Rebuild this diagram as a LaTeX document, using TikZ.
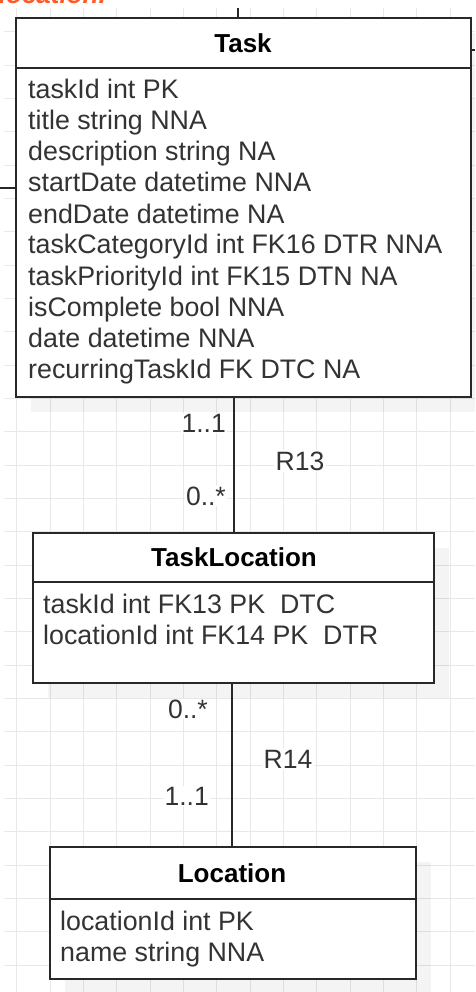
\documentclass[tikz,border=0pt]{standalone}
\usepackage{fontspec}
\setmainfont{Liberation Sans}
\usepackage{tikz}
\usetikzlibrary{positioning, calc}
\definecolor{boxline}{RGB}{40,40,40}
\definecolor{txtgray}{RGB}{51,51,51}
\definecolor{gridgray}{RGB}{232,232,232}
\definecolor{notered}{RGB}{255,90,40}
\tikzset{
  entity/.style={rectangle, draw=boxline, fill=white, line width=1.6pt, inner sep=0pt, anchor=north west},
  shade/.style={fill=black, opacity=0.045},
  divider/.style={draw=boxline, line width=1.6pt},
  title/.style={font=\fontsize{26}{31}\selectfont\bfseries, text=black, inner sep=0pt},
  attr/.style={font=\fontsize{26.8}{31}\selectfont, text=txtgray, inner sep=0pt, anchor=base west},
  mult/.style={font=\fontsize{26.5}{31}\selectfont, text=txtgray, fill=white, inner sep=1pt, anchor=base east},
  relname/.style={font=\fontsize{26.5}{31}\selectfont, text=txtgray, fill=white, inner sep=2pt, anchor=base},
  link/.style={draw=boxline, line width=1.5pt},
  gridline/.style={draw=gridgray, line width=0.9pt}
}

\begin{document}
\begin{tikzpicture}[x=1pt, y=-1pt]
  \useasboundingbox (0,0) rectangle (475,992);
  \clip (0,0) rectangle (475,992);

  % Grid
  \foreach \gx in {0,...,13}
    \draw[gridline] ({16.7+33.33*\gx},8) -- ({16.7+33.33*\gx},992);
  \foreach \gy in {0,...,28}
    \draw[gridline] (4,{31.7+33.33*\gy}) -- (475,{31.7+33.33*\gy});

  % Note text cut at the top
  \node[font=\fontsize{26}{31}\selectfont\bfseries\itshape, text=notered, inner sep=0pt, anchor=base east] (note) at (106,3.5) {location.};

  % Shadows
  \fill[shade] (31,33) rectangle (486,412);
  \fill[shade] (48,548) rectangle (449,698);
  \fill[shade] (65,862) rectangle (431,994);

  % Task
  \node[entity, minimum width=455pt, minimum height=379pt] (task) at (15,17) {};
  \draw[divider] ([yshift=-51pt]task.north west) -- ([yshift=-51pt]task.north east);
  \node[title] (taskTitle) at (243,43) {Task};
  \foreach \txt [count=\i from 0] in {taskId int PK, title string NNA, description string NA,
      startDate datetime NNA, endDate datetime NA, taskCategoryId int FK16 DTR NNA,
      taskPriorityId int FK15 DTN NA, isComplete bool NNA, date datetime NNA,
      recurringTaskId FK DTC NA}
    \node[attr] (taskAttr\i) at (28,{99+31*\i}) {\txt};

  % TaskLocation
  \node[entity, minimum width=401pt, minimum height=150pt] (taskLocation) at (32,532) {};
  \draw[divider] ([yshift=-50pt]taskLocation.north west) -- ([yshift=-50pt]taskLocation.north east);
  \node[title] (taskLocationTitle) at (234,557) {TaskLocation};
  \node[attr] (tlAttr0) at (43,613) {taskId int FK13 PK\ \ DTC};
  \node[attr] (tlAttr1) at (43,644) {locationId int FK14 PK\ \ DTR};

  % Location
  \node[entity, minimum width=366pt, minimum height=132pt] (location) at (49,846) {};
  \draw[divider] ([yshift=-53pt]location.north west) -- ([yshift=-53pt]location.north east);
  \node[title] (locationTitle) at (232,873) {Location};
  \node[attr] (locAttr0) at (60,930) {locationId int PK};
  \node[attr] (locAttr1) at (60,961) {name string NNA};

  % Connectors
  \coordinate (r13x) at (234,0);
  \coordinate (r14x) at (232,0);
  \draw[link] (task.south -| r13x) -- (taskLocation.north -| r13x);
  \draw[link] (taskLocation.south -| r14x) -- (location.north -| r14x);

  % Stubs leaving the picture
  \coordinate (upEnd) at (238,8);
  \coordinate (leftEnd) at (0,188);
  \coordinate (rightEnd) at (475,50);
  \draw[link] (task.north -| upEnd) -- (upEnd);
  \draw[link] (task.west |- leftEnd) -- (leftEnd);
  \draw[link] (task.east |- rightEnd) -- (rightEnd);

  % Labels R13
  \node[mult] (m13a) at (227,432) {1..1};
  \node[relname] (r13) at (300,470) {R13};
  \node[mult] (m13b) at (227,505) {0..*};

  % Labels R14
  \node[mult] (m14a) at (209,718) {0..*};
  \node[relname] (r14) at (288,768) {R14};
  \node[mult] (m14b) at (210,805) {1..1};
\end{tikzpicture}
\end{document}
